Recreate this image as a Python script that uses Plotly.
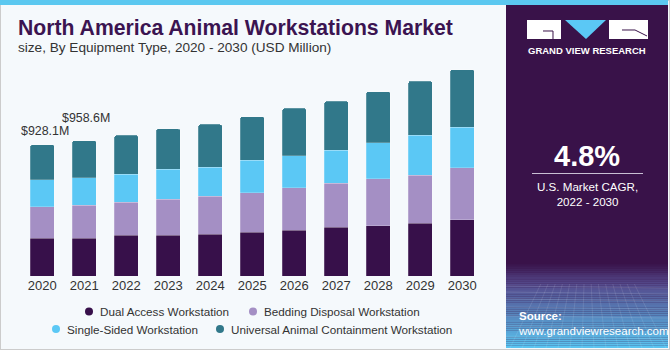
import plotly.graph_objects as go

years = ["2020", "2021", "2022", "2023", "2024", "2025", "2026", "2027", "2028", "2029", "2030"]
series_names = ["Dual Access Workstation", "Bedding Disposal Workstation",
                "Single-Sided Workstation", "Universal Animal Containment Workstation"]
dual = [267, 267, 287, 288, 297, 309, 325, 344, 356, 373, 398]
bedding = [222, 233, 235, 257, 269, 281, 300, 314, 333, 342, 368]
single = [191, 196, 198, 210, 205, 231, 227, 234, 255, 281, 286]
universal = [248.1, 262.6, 276, 286, 302, 307, 335, 345, 361, 383, 409]
total_labels = ["$928.1M", "$958.6M"]
colors = ["#37104A", "#A48FC4", "#5BC8F5", "#31788A"]

W, H = 670, 350
def px(x):
    return x / W
def py(y):
    return 1 - y / H

FONT = "Liberation Sans, Arial, sans-serif"

fig = go.Figure()
for name, vals, col in zip(series_names, [dual, bedding, single, universal], colors):
    fig.add_trace(go.Bar(x=years, y=vals, name=name, marker_color=col,
                         marker_line=dict(color="rgba(255,255,255,0.35)", width=0.6),
                         width=0.57, showlegend=False, hoverinfo="skip"))

totals = [d + b + s + u for d, b, s, u in zip(dual, bedding, single, universal)]

shapes = []
annotations = []

# background border
shapes.append(dict(type="rect", xref="paper", yref="paper", x0=0, x1=1, y0=0, y1=1,
                   line=dict(color="#CCCCCC", width=2), fillcolor="rgba(0,0,0,0)", layer="below"))
# right panel
shapes.append(dict(type="rect", xref="paper", yref="paper", x0=px(506), x1=px(668), y0=py(348), y1=py(0),
                   line=dict(width=0), fillcolor="#391249", layer="below"))
# gradient at bottom of panel
n = 40
y_start, y_end = 262, 348
c_top = (0x39, 0x12, 0x49)
c_mid = (0x55, 0x4A, 0x8C)
c_bot = (0x5A, 0xC4, 0xF0)
for i in range(n):
    t = i / (n - 1)
    ya = y_start + (y_end - y_start) * i / n
    yb = y_start + (y_end - y_start) * (i + 1) / n
    if t < 0.25:
        u = t / 0.25
        c = tuple(int(c_top[k] + (c_mid[k] - c_top[k]) * u) for k in range(3))
    else:
        u = (t - 0.25) / 0.75
        c = tuple(int(c_mid[k] + (c_bot[k] - c_mid[k]) * u) for k in range(3))
    shapes.append(dict(type="rect", xref="paper", yref="paper", x0=px(506), x1=px(668),
                       y0=py(yb), y1=py(ya), line=dict(width=0),
                       fillcolor="rgb(%d,%d,%d)" % c, layer="below"))
# faint grid texture
for yy in [286, 292, 299, 307, 316, 326, 337]:
    shapes.append(dict(type="line", xref="paper", yref="paper", x0=px(506), x1=px(668),
                       y0=py(yy), y1=py(yy + 2), line=dict(color="rgba(255,255,255,0.12)", width=1), layer="below"))
for xx in range(510, 668, 12):
    shapes.append(dict(type="line", xref="paper", yref="paper", x0=px(587 + (xx - 587) * 0.6), x1=px(xx),
                       y0=py(284), y1=py(348), line=dict(color="rgba(255,255,255,0.10)", width=1), layer="below"))

# top stripe
shapes.append(dict(type="rect", xref="paper", yref="paper", x0=0, x1=px(668), y0=py(5), y1=1,
                   line=dict(width=0), fillcolor="#5BC8F0", layer="above"))

# logo
shapes.append(dict(type="rect", xref="paper", yref="paper", x0=px(527), x1=px(561), y0=py(39), y1=py(20),
                   line=dict(width=0), fillcolor="white"))
shapes.append(dict(type="path", xref="paper", yref="paper",
                   path="M %f %f L %f %f L %f %f Z" % (px(565), py(20), px(606), py(20), px(586), py(39)),
                   line=dict(width=0), fillcolor="#5BC8F5"))
shapes.append(dict(type="rect", xref="paper", yref="paper", x0=px(609), x1=px(648), y0=py(39), y1=py(20),
                   line=dict(width=0), fillcolor="white"))
shapes.append(dict(type="path", xref="paper", yref="paper",
                   path="M %f %f L %f %f L %f %f" % (px(543), py(31), px(553), py(31), px(553), py(39)),
                   line=dict(color="#391249", width=1)))
shapes.append(dict(type="path", xref="paper", yref="paper",
                   path="M %f %f L %f %f L %f %f" % (px(622), py(30), px(635), py(30), px(647), py(36)),
                   line=dict(color="#391249", width=1)))
annotations.append(dict(text="<b>GRAND VIEW RESEARCH</b>", xref="paper", yref="paper", x=px(587), y=py(51),
                        showarrow=False, font=dict(family=FONT, size=9.5, color="white"),
                        xanchor="center", yanchor="middle"))

# CAGR
annotations.append(dict(text="<b>4.8%</b>", xref="paper", yref="paper", x=px(587), y=py(156),
                        showarrow=False, font=dict(family=FONT, size=29, color="white"),
                        xanchor="center", yanchor="middle"))
shapes.append(dict(type="line", xref="paper", yref="paper", x0=px(532), x1=px(643), y0=py(173.5), y1=py(173.5),
                   line=dict(color="#C9BFD4", width=1)))
annotations.append(dict(text="U.S. Market CAGR,<br>2022 - 2030", xref="paper", yref="paper", x=px(587), y=py(194),
                        showarrow=False, font=dict(family=FONT, size=11.6, color="white"),
                        xanchor="center", yanchor="middle", align="center"))
annotations.append(dict(text="<b>Source:</b><br>www.grandviewresearch.com", xref="paper", yref="paper",
                        x=px(516), y=py(323), showarrow=False,
                        font=dict(family=FONT, size=11.5, color="white"),
                        xanchor="left", yanchor="middle", align="left"))

# titles
annotations.append(dict(text="<b>North America Animal Workstations Market</b>", xref="paper", yref="paper",
                        x=px(16), y=py(28), showarrow=False,
                        font=dict(family=FONT, size=21.2, color="#3B1451"),
                        xanchor="left", yanchor="middle"))
annotations.append(dict(text="size, By Equipment Type, 2020 - 2030 (USD Million)", xref="paper", yref="paper",
                        x=px(16), y=py(47), showarrow=False,
                        font=dict(family=FONT, size=13.6, color="#333333"),
                        xanchor="left", yanchor="middle"))

# total labels (staggered as in the reference)
label_yshift = [14, 23]
label_xshift = [3, 2]
for i, lab in enumerate(total_labels):
    annotations.append(dict(text=lab, x=i, y=totals[i], xref="x", yref="y",
                            showarrow=False, yshift=label_yshift[i], xshift=label_xshift[i],
                            font=dict(family=FONT, size=12.4, color="#333333"),
                            xanchor="center", yanchor="middle"))

# manual legend
legend_pos = [(89, 311.5), (253, 311.5), (56, 329), (220, 329)]
for (lx, ly), name, col in zip(legend_pos, series_names, colors):
    r = 4
    shapes.append(dict(type="circle", xref="paper", yref="paper",
                       x0=px(lx - r), x1=px(lx + r), y0=py(ly + r), y1=py(ly - r),
                       line=dict(width=0), fillcolor=col))
    annotations.append(dict(text=name, xref="paper", yref="paper", x=px(lx + 9), y=py(ly),
                            showarrow=False, font=dict(family=FONT, size=11.7, color="#333333"),
                            xanchor="left", yanchor="middle"))

fig.update_layout(
    width=W, height=H,
    margin=dict(l=0, r=0, t=0, b=0),
    paper_bgcolor="#F5F9FC",
    plot_bgcolor="rgba(0,0,0,0)",
    barmode="stack",
    barcornerradius=2,
    shapes=shapes,
    annotations=annotations,
    showlegend=False,
    xaxis=dict(domain=[px(21.3), px(483.3)], range=[-0.5, 10.5], type="category",
               showgrid=False, zeroline=False, showline=False, ticks="",
               tickfont=dict(family=FONT, size=13, color="#333333")),
    yaxis=dict(domain=[py(276), py(50)], range=[0, 1600], showticklabels=False,
               showgrid=False, zeroline=False, showline=False, ticks=""),
)

fig.write_html("out.html")
